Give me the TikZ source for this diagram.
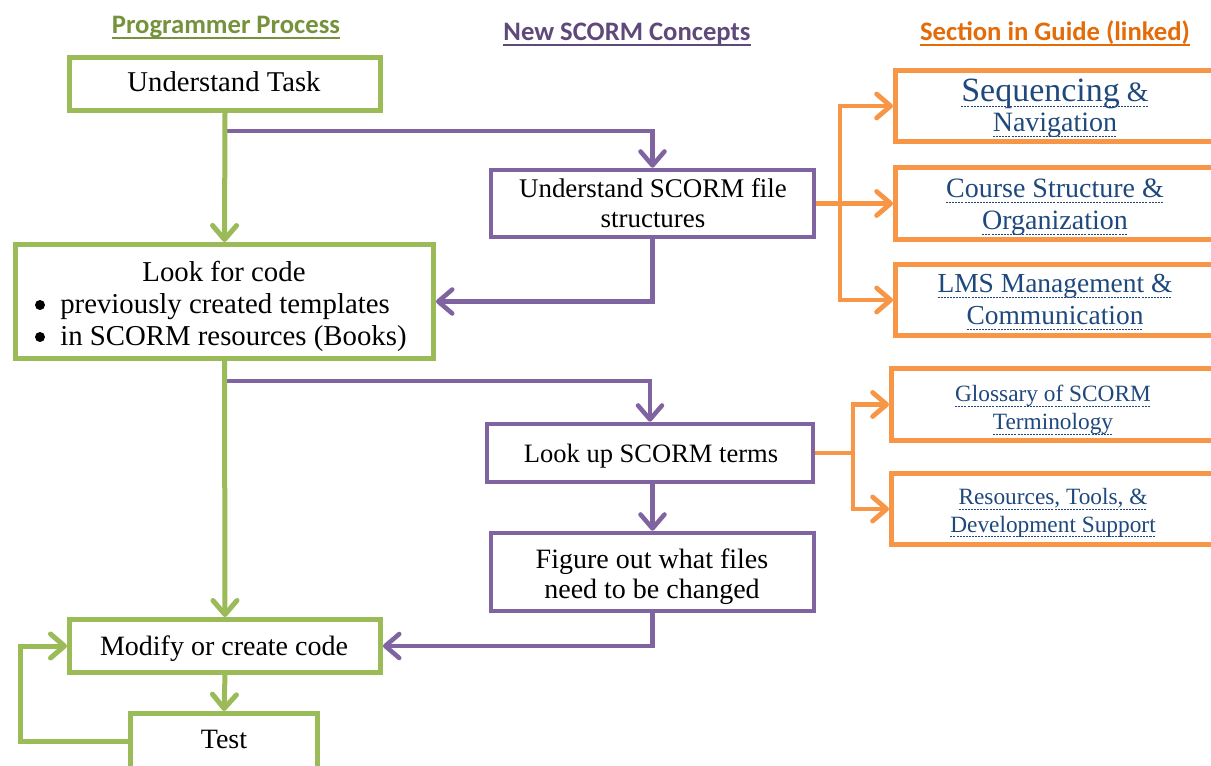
\documentclass[tikz,border=0pt]{standalone}
\usepackage{fontspec}
\setmainfont{Liberation Serif}
\newfontfamily\headfont{Carlito}
\usetikzlibrary{arrows.meta}
\definecolor{gbox}{HTML}{9BBB59}
\definecolor{pbox}{HTML}{8064A2}
\definecolor{obox}{HTML}{F79646}
\definecolor{ghead}{HTML}{76923C}
\definecolor{phead}{HTML}{5F497A}
\definecolor{ohead}{HTML}{E36C09}
\definecolor{linkc}{HTML}{1F497D}
\newsavebox\lnkbox
\newcommand\lnk[1]{\sbox\lnkbox{#1}\leavevmode\rlap{\raisebox{-3.3pt}[0pt][0pt]{\hbox to \wd\lnkbox{\xleaders\hbox{\rule{1.5pt}{0.6pt}\hspace{0.8pt}}\hfill}}}\usebox\lnkbox}
\newcommand\hul[1]{\sbox\lnkbox{#1}\leavevmode\rlap{\raisebox{-3.4pt}[0pt][0pt]{\rule{\wd\lnkbox}{1.4pt}}}\usebox\lnkbox}
\newcommand\twol[2]{\begin{tabular}[t]{@{}c@{}}#1\\#2\end{tabular}}
\tikzset{
 boxb/.style={rectangle, inner sep=0pt, fill=white},
 gbx/.style={boxb, draw=gbox, line width=3.75pt},
 pbx/.style={boxb, draw=pbox, line width=3.4pt},
 obx/.style={boxb, draw=obox, line width=3.75pt},
 txt/.style={inner sep=0pt, anchor=base, font=\fontsize{21}{24}\selectfont},
 ltxt/.style={txt, text=linkc},
 bulletdot/.style={circle, fill=black, inner sep=0pt, minimum size=7.5pt},
 tip/.style={-{Straight Barb[length=10.5pt,width=18pt,round]}},
 gline/.style={draw=gbox, line width=3.75pt},
 pline/.style={draw=pbox, line width=3.4pt},
 oline/.style={draw=obox, line width=3.6pt},
 head/.style={font=\headfont\bfseries\fontsize{20}{22}\selectfont, inner sep=0pt, anchor=base},
}
\begin{document}
\begin{tikzpicture}[x=0.75pt,y=-0.75pt]
\useasboundingbox (0,0) rectangle (1211,766);
\clip (0,0) rectangle (1211,766);
\fill[white] (0,0) rectangle (1211,766);

% headings
\node[head, text=ghead] (hA) at (226,34) {\hul{Programmer Process}};
\node[head, text=phead] (hB) at (627,41) {\hul{New SCORM Concepts}};
\node[head, text=ohead] (hC) at (1055,41) {\hul{Section in Guide (linked)}};

\coordinate (b1) at (226,131);
\coordinate (b2) at (226,381);
\coordinate (oj1) at (840,203.5);
\coordinate (oj2) at (853,453);
\coordinate (loopx) at (20,700);

% green boxes
\node[gbx, minimum width=311*0.75pt, minimum height=53*0.75pt] (task) at (225,84) {};
\node[gbx, minimum width=418*0.75pt, minimum height=114*0.75pt] (look) at (224.5,301.5) {};
\node[gbx, minimum width=311*0.75pt, minimum height=53*0.75pt] (modify) at (225,646) {};
\node[gbx, minimum width=187*0.75pt, minimum height=55*0.75pt] (test) at (224,741) {};

% purple boxes
\node[pbx, minimum width=323*0.75pt, minimum height=67*0.75pt] (scormfile) at (652.5,203.5) {};
\node[pbx, minimum width=326*0.75pt, minimum height=58*0.75pt] (lookup) at (650,453) {};
\node[pbx, minimum width=323*0.75pt, minimum height=78*0.75pt] (figure) at (652.5,572) {};

% orange boxes
\node[obx, minimum width=319.5*0.75pt, minimum height=71*0.75pt] (seq) at (1055.25,106) {};
\node[obx, minimum width=319.5*0.75pt, minimum height=72*0.75pt] (course) at (1055.25,203.5) {};
\node[obx, minimum width=319.5*0.75pt, minimum height=71*0.75pt] (lms) at (1055.25,300) {};
\node[obx, minimum width=323.5*0.75pt, minimum height=72*0.75pt] (gloss) at (1053.25,404.5) {};
\node[obx, minimum width=323.5*0.75pt, minimum height=71*0.75pt] (res) at (1053.25,509) {};

% texts
\node[txt, font=\fontsize{21.5}{24}\selectfont] (taskT) at (224,92) {Understand Task};
\node[txt, font=\fontsize{21.6}{24}\selectfont] (lookH) at (224,282) {Look for code};
\node[bulletdot] (dot1) at (40,305) {};
\node[bulletdot] (dot2) at (40,337) {};
\node[txt, font=\fontsize{21.6}{24}\selectfont, anchor=base west] (lookB1) at (60,314) {previously created templates};
\node[txt, font=\fontsize{21.6}{24}\selectfont, anchor=base west] (lookB2) at (60,346) {in SCORM resources (Books)};
\node[txt] (modifyT) at (224,655) {Modify or create code};
\node[txt] (testT) at (224,748) {Test};
\node[txt, font=\fontsize{20.2}{22.5}\selectfont] (scormfileT) at (653,198) {\twol{Understand SCORM file}{structures}};
\node[txt, font=\fontsize{19.9}{22.5}\selectfont] (lookupT) at (651,463) {Look up SCORM terms};
\node[txt, font=\fontsize{21}{22.5}\selectfont] (figureT) at (652,568) {\twol{Figure out what files}{need to be changed}};
\node[ltxt, font=\fontsize{21}{22.5}\selectfont] (seqT) at (1055,102) {\twol{\lnk{{\fontsize{25.5}{28}\selectfont Sequencing}~\&}}{\lnk{Navigation}}};
\node[ltxt] (courseT) at (1055,198) {\twol{\lnk{Course Structure \&}}{\lnk{Organization}}};
\node[ltxt, font=\fontsize{20.6}{24}\selectfont] (lmsT) at (1055,293) {\twol{\lnk{LMS Management \&}}{\lnk{Communication}}};
\node[ltxt, font=\fontsize{17.5}{21}\selectfont] (glossT) at (1053,402) {\twol{\lnk{Glossary of SCORM}}{\lnk{Terminology}}};
\node[ltxt, font=\fontsize{17.5}{20.3}\selectfont] (resT) at (1053,505) {\twol{\lnk{Resources, Tools, \&}}{\lnk{Development Support}}};

% purple connectors
\draw[pline, tip] (b1) -| (scormfile.north);
\draw[pline, tip] (scormfile.south) |- (look.east);
\draw[pline, tip] (b2) -| (lookup.north);
\draw[pline, tip] (figure.north |- lookup.south) -- (figure.north);
\draw[pline, tip] (figure.south) |- (modify.east);

% green connectors
\draw[gline, tip] (task.south) -- (look.north);
\draw[gline, tip] (look.south) -- (modify.north);
\draw[gline, tip] (modify.south) -- (test.north);
\draw[gline, tip] (test.west) -| (loopx) |- (modify.west);

% orange connectors
\draw[oline] (scormfile.east) -- (oj1);
\draw[oline, tip] (oj1) |- (seq.west);
\draw[oline, tip] (oj1) -- (course.west);
\draw[oline, tip] (oj1) |- (lms.west);
\draw[oline] (lookup.east) -- (oj2);
\draw[oline, tip] (oj2) |- (gloss.west);
\draw[oline, tip] (oj2) |- (res.west);
\end{tikzpicture}
\end{document}
